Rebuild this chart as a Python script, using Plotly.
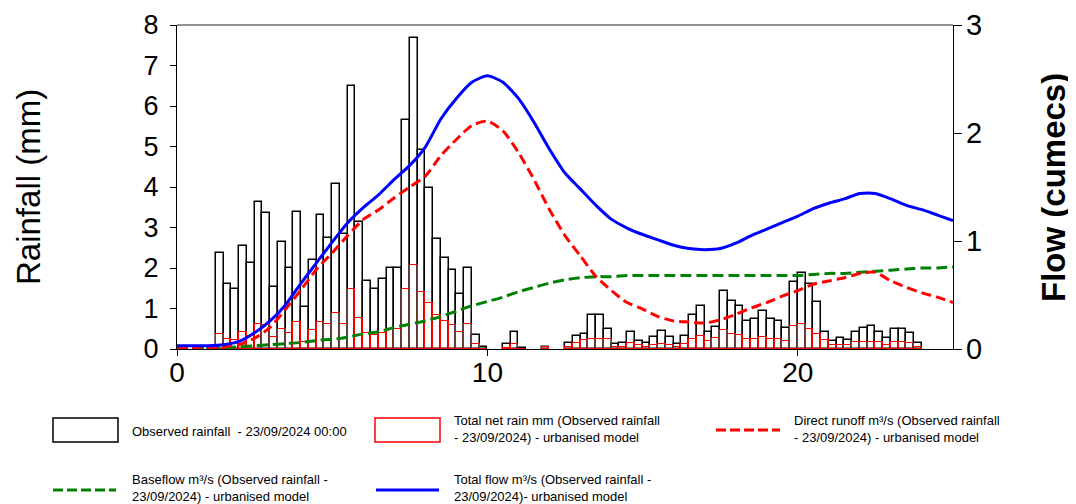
import plotly.graph_objects as go

# ---------------- data ----------------
bar_time = [1.0, 1.25, 1.5, 1.75, 2.0, 2.25, 2.5, 2.75, 3.0, 3.25, 3.5, 3.75,
            4.0, 4.25, 4.5, 4.75, 5.0, 5.25, 5.5, 5.75, 6.0, 6.25, 6.5, 6.75,
            7.0, 7.25, 7.5, 7.75, 8.0, 8.25, 8.5, 8.75, 9.0, 9.25, 9.5, 9.75,
            10.5, 10.75, 11.0, 11.75, 12.5, 12.75, 13.0, 13.25, 13.5, 13.75,
            14.0, 14.25, 14.5, 14.75, 15.0, 15.25, 15.5, 15.75, 16.0, 16.25,
            16.5, 16.75, 17.0, 17.25, 17.5, 17.75, 18.0, 18.25, 18.5, 18.75,
            19.0, 19.25, 19.5, 19.75, 20.0, 20.25, 20.5, 20.75, 21.0, 21.25,
            21.5, 21.75, 22.0, 22.25, 22.5, 22.75, 23.0, 23.25, 23.5, 23.75]

observed_rain = [0.05, 2.37, 1.60, 1.48, 2.55, 2.12, 3.64, 3.36, 1.53, 2.63, 2.00, 3.39,
                 1.04, 2.20, 3.31, 2.74, 4.07, 2.84, 6.50, 3.14, 1.69, 1.48, 1.73, 2.00,
                 2.00, 5.66, 7.69, 4.92, 3.97, 2.71, 2.25, 1.96, 1.36, 2.00, 0.35, 0.05,
                 0.12, 0.42, 0.03, 0.06, 0.16, 0.31, 0.38, 0.85, 0.85, 0.49,
                 0.13, 0.16, 0.41, 0.20, 0.15, 0.30, 0.45, 0.30, 0.13, 0.33,
                 0.85, 1.05, 0.41, 0.54, 1.44, 1.18, 1.05, 0.70, 0.75, 0.95,
                 0.75, 0.70, 0.53, 1.65, 1.87, 1.60, 1.15, 0.41, 0.20, 0.26,
                 0.23, 0.41, 0.51, 0.56, 0.41, 0.26, 0.49, 0.49, 0.40, 0.15]

net_rain = [0.0, 0.38, 0.25, 0.23, 0.42, 0.31, 0.62, 0.60, 0.30, 0.49, 0.40, 0.67,
            0.18, 0.46, 0.67, 0.62, 0.89, 0.62, 1.48, 0.76, 0.40, 0.35, 0.40, 0.49,
            0.49, 1.48, 2.08, 1.40, 1.13, 0.84, 0.68, 0.60, 0.42, 0.62, 0.13, 0.0,
            0.03, 0.13, 0.0, 0.05, 0.05, 0.16, 0.23, 0.25, 0.25, 0.25,
            0.05, 0.06, 0.15, 0.10, 0.06, 0.10, 0.13, 0.10, 0.06, 0.13,
            0.25, 0.33, 0.21, 0.27, 0.48, 0.38, 0.35, 0.25, 0.25, 0.30,
            0.25, 0.25, 0.19, 0.58, 0.62, 0.49, 0.37, 0.23, 0.10, 0.10,
            0.10, 0.18, 0.18, 0.18, 0.18, 0.10, 0.18, 0.18, 0.16, 0.06]

flow_time = [0, 0.5, 1.0, 1.5, 2.0, 2.5, 3.0, 3.5, 4.0, 4.5, 5.0, 5.5, 6.0, 6.5,
             7.0, 7.5, 8.0, 8.5, 9.0, 9.5, 10.0, 10.5, 11.0, 11.5, 12.0, 12.5,
             13.0, 13.5, 14.0, 14.5, 15.0, 15.5, 16.0, 16.5, 17.0, 17.5, 18.0,
             18.5, 19.0, 19.5, 20.0, 20.5, 21.0, 21.5, 22.0, 22.5, 23.0, 23.5,
             24.0, 24.5, 25.0]

direct_runoff = [0.01, 0.01, 0.01, 0.02, 0.04, 0.10, 0.20, 0.37, 0.55, 0.74, 0.89, 1.05,
                 1.20, 1.29, 1.40, 1.50, 1.60, 1.79, 1.94, 2.07, 2.11, 2.02, 1.82, 1.57,
                 1.29, 1.05, 0.86, 0.67, 0.54, 0.43, 0.37, 0.30, 0.26, 0.25, 0.24, 0.27,
                 0.32, 0.38, 0.43, 0.49, 0.54, 0.60, 0.63, 0.66, 0.70, 0.71, 0.63, 0.57,
                 0.52, 0.48, 0.43]

baseflow = [0.01, 0.01, 0.01, 0.01, 0.02, 0.03, 0.04, 0.05, 0.06, 0.08, 0.09, 0.11,
            0.14, 0.16, 0.20, 0.23, 0.26, 0.30, 0.35, 0.40, 0.44, 0.48, 0.53, 0.57,
            0.61, 0.64, 0.66, 0.67, 0.67, 0.68, 0.68, 0.68, 0.68, 0.68, 0.68, 0.68,
            0.68, 0.68, 0.68, 0.68, 0.68, 0.69, 0.70, 0.70, 0.71, 0.72, 0.73, 0.74,
            0.75, 0.75, 0.76]

total_flow = [0.03, 0.03, 0.03, 0.04, 0.07, 0.15, 0.26, 0.41, 0.61, 0.80, 0.99, 1.17,
              1.31, 1.43, 1.57, 1.70, 1.87, 2.13, 2.32, 2.47, 2.53, 2.47, 2.32, 2.10,
              1.85, 1.63, 1.48, 1.33, 1.20, 1.12, 1.06, 1.01, 0.96, 0.93, 0.92, 0.93,
              0.98, 1.05, 1.11, 1.17, 1.23, 1.30, 1.35, 1.39, 1.44, 1.44, 1.39, 1.33,
              1.29, 1.24, 1.19]

legend_labels = [
    "Observed rainfall  - 23/09/2024 00:00",
    "Total net rain mm (Observed rainfall<br>- 23/09/2024) - urbanised model",
    "Direct runoff m³/s (Observed rainfall<br>- 23/09/2024) - urbanised model",
    "Baseflow m³/s (Observed rainfall -<br>23/09/2024) - urbanised model",
    "Total flow m³/s (Observed rainfall -<br>23/09/2024)- urbanised model",
]

# ---------------- layout constants ----------------
# The page places the figure 8px from the top-left corner, so all
# reference pixel positions are shifted by OFF.
OFF = 8
W, H = 1076 - OFF, 504 - OFF
PL, PR, PT, PB = 177 - OFF, 953 - OFF, 25 - OFF, 349 - OFF
FONT = "Arial, Liberation Sans, sans-serif"


def px(x):
    return (x - OFF - PL) / (PR - PL)


def py(y):
    return (PB - (y - OFF)) / (PB - PT)


fig = go.Figure()

fig.add_trace(go.Bar(x=bar_time, y=observed_rain, width=0.25, offset=0,
                     marker=dict(color="rgba(255,255,255,0)",
                                 line=dict(color="black", width=1.5)),
                     name=legend_labels[0], yaxis="y"))
fig.add_trace(go.Bar(x=bar_time, y=net_rain, width=0.25, offset=0,
                     marker=dict(color="rgba(255,255,255,0)",
                                 line=dict(color="red", width=1.1)),
                     name=legend_labels[1], yaxis="y"))
fig.add_trace(go.Scatter(x=flow_time, y=baseflow, mode="lines", yaxis="y2",
                         line=dict(color="#008000", width=3, dash="11px,5px",
                                   shape="spline", smoothing=0.6),
                         name=legend_labels[3]))
fig.add_trace(go.Scatter(x=flow_time, y=direct_runoff, mode="lines", yaxis="y2",
                         line=dict(color="#ff0000", width=3, dash="10px,5px",
                                   shape="spline", smoothing=0.6),
                         name=legend_labels[2]))
fig.add_trace(go.Scatter(x=flow_time, y=total_flow, mode="lines", yaxis="y2",
                         line=dict(color="#0000ff", width=3,
                                   shape="spline", smoothing=0.6),
                         name=legend_labels[4]))

shapes = [
    dict(type="line", xref="paper", yref="paper", x0=0, x1=1, y0=1, y1=1,
         line=dict(color="#707070", width=1.5)),
    # legend symbols
    dict(type="rect", xref="paper", yref="paper", x0=px(53), x1=px(118), y0=py(442), y1=py(418),
         line=dict(color="black", width=1.5), fillcolor="white"),
    dict(type="rect", xref="paper", yref="paper", x0=px(375), x1=px(440), y0=py(442), y1=py(418),
         line=dict(color="red", width=1.5), fillcolor="white"),
    dict(type="line", xref="paper", yref="paper", x0=px(716), x1=px(780), y0=py(430), y1=py(430),
         line=dict(color="#ff0000", width=3, dash="10px,4px")),
    dict(type="line", xref="paper", yref="paper", x0=px(53), x1=px(116), y0=py(490), y1=py(490),
         line=dict(color="#008000", width=3, dash="10px,4px")),
    dict(type="line", xref="paper", yref="paper", x0=px(376), x1=px(439), y0=py(490), y1=py(490),
         line=dict(color="#0000ff", width=3)),
]

legend_pos = [(130, 431), (452, 429), (792, 429), (130, 488), (452, 488)]
annotations = []
for label, (lx, ly) in zip(legend_labels, legend_pos):
    annotations.append(dict(text=label, xref="paper", yref="paper", x=px(lx), y=py(ly),
                            xanchor="left", yanchor="middle", align="left", showarrow=False,
                            font=dict(family=FONT, size=13, color="black")))

annotations.append(dict(text="Rainfall (mm)", xref="paper", yref="paper", x=px(28), y=py(187),
                        xanchor="center", yanchor="middle", textangle=-90, showarrow=False,
                        font=dict(family=FONT, size=33, color="black")))
annotations.append(dict(text="<b>Flow (cumecs)</b>", xref="paper", yref="paper", x=px(1053), y=py(188),
                        xanchor="center", yanchor="middle", textangle=-90, showarrow=False,
                        font=dict(family=FONT, size=33, color="black")))

fig.update_layout(
    width=W, height=H,
    margin=dict(l=PL, r=W - PR, t=PT, b=H - PB, autoexpand=False),
    paper_bgcolor="white", plot_bgcolor="white",
    barmode="overlay", bargap=0,
    showlegend=False,
    font=dict(family=FONT, color="black"),
    xaxis=dict(range=[0, 25], tickvals=[0, 10, 20], ticks="outside", ticklen=6,
               tickwidth=1.3, tickcolor="black", showline=True, linecolor="black",
               linewidth=1.3, showgrid=False, zeroline=False, ticklabelstandoff=-8,
               tickfont=dict(size=28, family=FONT)),
    yaxis=dict(range=[0, 8], dtick=1, ticks="outside", ticklen=6, tickwidth=1.3,
               tickcolor="black", showline=True, linecolor="black", linewidth=1.3,
               showgrid=False, zeroline=False, ticklabelstandoff=6,
               tickfont=dict(size=27, family=FONT)),
    yaxis2=dict(range=[0, 3], dtick=1, overlaying="y", side="right", ticks="outside",
                ticklen=8, tickwidth=1.3, tickcolor="black", showline=True,
                linecolor="black", linewidth=1.3, showgrid=False, zeroline=False,
                ticklabelstandoff=-2, tickfont=dict(size=29, family=FONT)),
    shapes=shapes,
    annotations=annotations,
)

fig.write_html("out.html")
